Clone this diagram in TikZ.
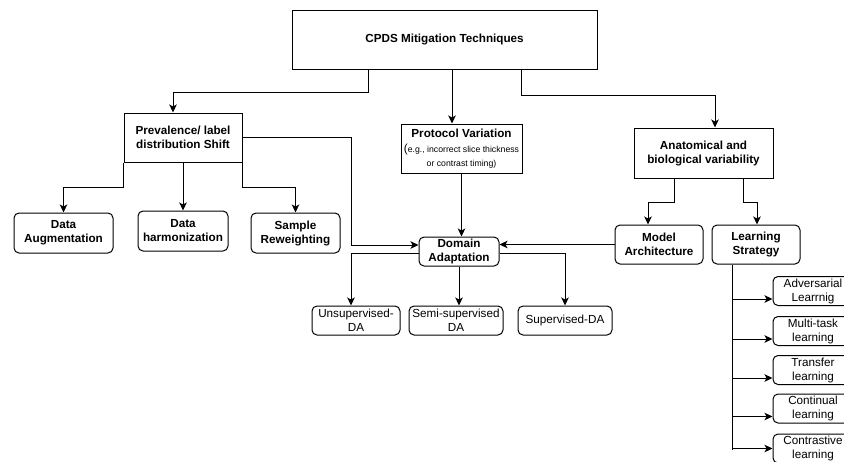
\documentclass[tikz,border=0pt]{standalone}
\usepackage{fontspec}
\setmainfont{Liberation Sans}
\usetikzlibrary{arrows.meta}
\begin{document}
\begin{tikzpicture}[x=1pt,y=-1pt,
    every node/.style={draw,line width=1pt,align=center,inner sep=0pt,
      font=\fontsize{11.7}{14}\selectfont},
    sq/.style={font=\fontsize{11.7}{14}\selectfont\bfseries},
    rd/.style={rounded corners=5pt},
    bd/.style={rd,font=\fontsize{11.7}{14}\selectfont\bfseries},
    arr/.style={line width=1pt,-{Stealth[length=8pt,width=7.5pt,inset=2pt]}}]
    \clip (0,0) rectangle (844,461);
    % top levels
    \node[sq,minimum width=305pt,minimum height=59pt] (root) at (444.5,39.5) {CPDS Mitigation Techniques};
    \node[sq,minimum width=118pt,minimum height=49pt] (prev) at (183,137.5) {Prevalence/ label\\distribution Shift};
    \node[minimum width=121pt,minimum height=49pt] (proto) at (461.5,148.5) {\textbf{Protocol Variation}\\[1pt]
      {\fontsize{11.7}{14}\selectfont(}{\fontsize{8.7}{14}\selectfont e.g., incorrect slice thickness}\\
      {\fontsize{8.7}{14}\selectfont or contrast timing)}};
    \node[sq,minimum width=139pt,minimum height=50pt] (anat) at (703.5,153) {Anatomical and\\biological variability};
    % second level
    \node[bd,minimum width=99pt,minimum height=40pt] (aug) at (63.5,233) {Data\\Augmentation};
    \node[bd,minimum width=90pt,minimum height=40pt] (harm) at (183,231) {Data\\harmonization};
    \node[bd,minimum width=89pt,minimum height=40pt] (rew) at (295.5,233) {Sample\\Reweighting};
    \node[bd,minimum width=80pt,minimum height=29pt] (da) at (459,251.5) {Domain\\Adaptation};
    \node[bd,minimum width=88pt,minimum height=39pt] (model) at (659,244.5) {Model\\Architecture};
    \node[bd,minimum width=88pt,minimum height=39pt] (learn) at (756,244.5) {Learning\\Strategy};
    % domain adaptation kinds
    \node[rd,minimum width=88pt,minimum height=29pt] (unsup) at (356,320.5) {Unsupervised-\\DA};
    \node[rd,minimum width=94pt,minimum height=29pt] (semi) at (456,320.5) {Semi-supervised\\DA};
    \node[rd,minimum width=94pt,minimum height=29pt] (sup) at (565,320.5) {Supervised-DA};
    % learning strategies
    \node[rd,minimum width=80pt,minimum height=29pt] (adv) at (813,291) {Adversarial\\Learrnig};
    \node[rd,minimum width=80pt,minimum height=29pt] (multi) at (813,331) {Multi-task\\learning};
    \node[rd,minimum width=80pt,minimum height=29pt] (trans) at (813,370) {Transfer\\learning};
    \node[rd,minimum width=80pt,minimum height=29pt] (cont) at (813,408.5) {Continual\\learning};
    \node[rd,minimum width=80pt,minimum height=29pt] (contr) at (813,448.5) {Contrastive\\learning};

    \draw[arr] ([xshift=-76.5pt]root.south) -- ++(0,23) -| ([xshift=-10pt]prev.north);
    \draw[arr] ([xshift=7.5pt]root.south) -- ([xshift=-9.5pt]proto.north);
    \draw[arr] ([xshift=76.5pt]root.south) -- ++(0,26) -| ([xshift=11.5pt]anat.north);

    \draw[arr] (prev.south west) -- ++(0,25) -| (aug.north);
    \draw[arr] (prev.south) -- (harm.north);
    \draw[arr] (prev.south east) -- ++(0,25) -| (rew.north);
    \draw[arr] (prev.east) -- ++(109,0) |- ([yshift=6.5pt]da.west);

    \draw[arr] (proto.south) -- (proto.south |- da.north);
    \draw[arr] (model.west) -- (model.west -| da.east);

    \draw[arr] ([yshift=-1.5pt]da.west) -| ([xshift=-5pt]unsup.north);
    \draw[arr] (da.south) -- (da.south |- semi.north);
    \draw[arr] ([yshift=-1.5pt]da.east) -| (sup.north);

    \draw[arr] ([xshift=-29.5pt]anat.south) -- ++(0,24) -| ([xshift=-11pt]model.north);
    \draw[arr] ([xshift=39.5pt]anat.south) -- ++(0,24) -| ([xshift=1pt]learn.north);

    \coordinate (lsx) at ([xshift=-24pt]learn.south);
    \draw[line width=1pt] (lsx) -- ++(0,185);
    \foreach \n/\s in {adv/-8,multi/-8,trans/-8,cont/-8,contr/0}{
      \coordinate (\n in) at ([yshift=\s pt]\n.west);
      \draw[arr] (lsx |- \n in) -- (\n in);
    }
\end{tikzpicture}
\end{document}
